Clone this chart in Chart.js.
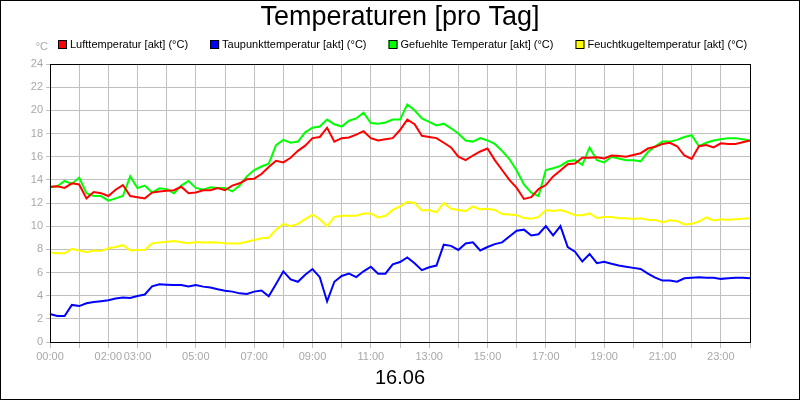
<!DOCTYPE html>
<html>
<head>
<meta charset="utf-8">
<title>Temperaturen [pro Tag]</title>
<script src="https://cdn.jsdelivr.net/npm/chart.js@4/dist/chart.umd.min.js"></script>
<style>
    body { margin: 0; background: #fff; }
    canvas { display: block; }
</style>
</head>
<body>
<canvas id="tempChart" width="800" height="400"></canvas>
<script>
// Messwerte alle 15 Minuten, 00:00 bis 24:00
const stepMinutes = 15;
const times = [];
for (let m = 0; m <= 24 * 60; m += stepMinutes) {
    const hh = String(Math.floor(m / 60)).padStart(2, '0');
    const mm = String(m % 60).padStart(2, '0');
    times.push(hh + ':' + mm);
}

const tickLabels = ['00:00', '02:00', '03:00', '05:00', '07:00', '09:00', '11:00', '13:00', '15:00', '17:00', '19:00', '21:00', '23:00'];
const yTicks = [0, 2, 4, 6, 8, 10, 12, 14, 16, 18, 20, 22, 24];
const chartTitle = 'Temperaturen [pro Tag]';
const dateLabel = '16.06';

const seriesNames = ['Lufttemperatur [akt] (°C)', 'Taupunkttemperatur [akt] (°C)', 'Gefuehlte Temperatur [akt] (°C)', 'Feuchtkugeltemperatur [akt] (°C)'];

const luftTemp = [
    13.4, 13.45, 13.3, 13.7, 13.6, 12.4, 12.95, 12.85, 12.6, 13.15, 13.55, 12.6, 12.5, 12.4, 12.9, 13.0, 13.05, 13.1, 13.4, 12.85, 12.9, 13.1, 13.1, 13.3, 13.1,
    13.5, 13.7, 14.05, 14.1, 14.5, 15.1, 15.65, 15.5, 15.9, 16.5, 16.95, 17.6, 17.7, 18.5, 17.3, 17.6, 17.65, 17.9, 18.2, 17.6, 17.4, 17.5, 17.6, 18.3,
    19.2, 18.8, 17.8, 17.7, 17.6, 17.2, 16.8, 16.0, 15.7, 16.1, 16.45, 16.7, 15.7, 14.85, 14.0, 13.3, 12.35, 12.5, 13.2, 13.55, 14.3, 14.8, 15.35, 15.4,
    15.9, 15.9, 15.95, 15.85, 16.1, 16.05, 16.0, 16.15, 16.3, 16.7, 16.85, 17.1, 17.2, 16.9, 16.1, 15.8, 16.9, 17.0, 16.8, 17.15, 17.1, 17.1, 17.25, 17.4
];
const taupunkt = [
    2.41, 2.24, 2.24, 3.2, 3.1, 3.35, 3.45, 3.52, 3.6, 3.75, 3.85, 3.8, 3.97, 4.1, 4.8, 4.98, 4.95, 4.92, 4.92, 4.8, 4.92, 4.78, 4.7, 4.55, 4.43,
    4.35, 4.2, 4.15, 4.35, 4.45, 3.95, 5.0, 6.1, 5.4, 5.2, 5.8, 6.3, 5.6, 3.5, 5.2, 5.7, 5.9, 5.6, 6.1, 6.5, 5.9, 5.9, 6.7, 6.9,
    7.3, 6.8, 6.2, 6.45, 6.6, 8.4, 8.3, 7.95, 8.5, 8.6, 7.9, 8.2, 8.45, 8.6, 9.1, 9.6, 9.7, 9.2, 9.3, 10.0, 9.2, 10.0, 8.2, 7.8,
    6.95, 7.6, 6.8, 6.93, 6.75, 6.6, 6.5, 6.4, 6.3, 5.9, 5.55, 5.3, 5.3, 5.2, 5.5, 5.55, 5.6, 5.55, 5.55, 5.45, 5.5, 5.55, 5.55, 5.5
];
const gefuehlt = [
    13.35, 13.45, 13.9, 13.65, 14.2, 12.85, 12.6, 12.6, 12.2, 12.4, 12.6, 14.3, 13.3, 13.5, 12.9, 13.27, 13.2, 12.85, 13.5, 13.9, 13.3, 13.15, 13.35, 13.3, 13.3,
    13.0, 13.5, 14.3, 14.85, 15.15, 15.4, 17.0, 17.45, 17.2, 17.3, 18.1, 18.5, 18.6, 19.2, 18.8, 18.6, 19.1, 19.3, 19.8, 18.9, 18.85, 18.95, 19.2, 19.2,
    20.5, 20.0, 19.3, 19.0, 18.7, 18.85, 18.45, 18.0, 17.4, 17.3, 17.6, 17.4, 17.1, 16.5, 15.8, 14.8, 13.6, 12.9, 12.6, 14.85, 15.0, 15.2, 15.6, 15.7,
    15.3, 16.8, 15.7, 15.5, 16.0, 15.85, 15.7, 15.7, 15.6, 16.4, 16.9, 17.3, 17.3, 17.45, 17.7, 17.85, 16.9, 17.2, 17.4, 17.5, 17.6, 17.6, 17.5, 17.4
];
const feuchtkugel = [
    7.72, 7.66, 7.66, 8.05, 7.9, 7.75, 7.9, 7.85, 8.09, 8.2, 8.36, 7.9, 7.95, 7.95, 8.5, 8.6, 8.65, 8.72, 8.62, 8.52, 8.64, 8.58, 8.62, 8.58, 8.52,
    8.5, 8.5, 8.66, 8.8, 8.95, 9.0, 9.7, 10.2, 10.0, 10.2, 10.6, 11.0, 10.6, 10.0, 10.8, 10.9, 10.9, 10.9, 11.1, 11.1, 10.75, 10.9, 11.4, 11.7,
    12.1, 12.0, 11.35, 11.4, 11.2, 12.0, 11.5, 11.4, 11.3, 11.7, 11.45, 11.5, 11.4, 11.05, 11.0, 10.95, 10.7, 10.65, 10.8, 11.4, 11.3, 11.4, 11.2, 10.95,
    10.95, 11.1, 10.7, 10.8, 10.8, 10.68, 10.68, 10.62, 10.68, 10.56, 10.54, 10.35, 10.5, 10.45, 10.15, 10.2, 10.4, 10.75, 10.5, 10.6, 10.55, 10.6, 10.65, 10.68
];

const seriesColors = ['#ff0000', '#0000ff', '#00ff00', '#ffff00'];
const fontFamily = '"Liberation Sans", Arial, sans-serif';
const tickGray = '#a8a8a8';
const gridGray = '#c0c0c0';

// Titel, Legende, Rahmen und Einheit selbst zeichnen
const frameAndLegend = {
    id: 'frameAndLegend',
    afterDraw(chart) {
        const ctx = chart.ctx;
        const area = chart.chartArea;
        ctx.save();

        // Rahmen um den Plotbereich
        ctx.strokeStyle = '#000';
        ctx.lineWidth = 1;
        ctx.strokeRect(Math.round(area.left) + 0.5, Math.round(area.top) + 0.5, Math.round(area.right - area.left), Math.round(area.bottom - area.top));

        // Rahmen um das ganze Bild
        ctx.strokeRect(0.5, 0.5, chart.width - 1, chart.height - 1);

        // Titel
        ctx.fillStyle = '#000';
        ctx.font = '27px ' + fontFamily;
        ctx.textAlign = 'center';
        ctx.textBaseline = 'middle';
        ctx.fillText(chartTitle, chart.width / 2, 18);

        // Legende
        ctx.font = '11px ' + fontFamily;
        ctx.textAlign = 'left';
        let x = 58;
        const boxTop = 40;
        chart.data.datasets.forEach(ds => {
            ctx.fillStyle = ds.borderColor;
            ctx.fillRect(x, boxTop, 9, 9);
            ctx.strokeStyle = '#000';
            ctx.strokeRect(x + 0.5, boxTop + 0.5, 8, 8);
            ctx.fillStyle = '#000';
            ctx.fillText(ds.label, x + 12, boxTop + 5);
            x += 12 + ctx.measureText(ds.label).width + 22;
        });

        // Einheit an der y-Achse
        ctx.fillStyle = tickGray;
        ctx.textAlign = 'right';
        ctx.fillText('°C', 48, 47);
        ctx.restore();
    }
};

const ctx = document.getElementById('tempChart').getContext('2d');
const tempChart = new Chart(ctx, {
    type: 'line',
    data: {
        labels: times,
        datasets: [luftTemp, taupunkt, gefuehlt, feuchtkugel].map((values, i) => ({
            label: seriesNames[i],
            data: values,
            borderColor: seriesColors[i],
            backgroundColor: seriesColors[i],
            borderWidth: 2,
            pointRadius: 0,
            tension: 0,
            fill: false
        }))
    },
    options: {
        responsive: false,
        animation: false,
        layout: {
            padding: { left: 0, right: 50, top: 64, bottom: 0 }
        },
        plugins: {
            legend: { display: false },
            tooltip: { enabled: false },
            title: { display: false }
        },
        scales: {
            x: {
                type: 'category',
                offset: false,
                afterFit: scale => { scale.height = 58; },
                border: { color: '#000', width: 1 },
                grid: {
                    offset: false,
                    color: c => (times[c.index] || '').endsWith(':00') ? gridGray : 'rgba(0,0,0,0)',
                    tickColor: c => (times[c.index] || '').endsWith(':00') ? gridGray : 'rgba(0,0,0,0)',
                    tickLength: 6
                },
                ticks: {
                    autoSkip: false,
                    maxRotation: 0,
                    minRotation: 0,
                    padding: 2,
                    color: tickGray,
                    font: { family: fontFamily, size: 11 },
                    callback: function (value) {
                        const label = this.getLabelForValue(value);
                        return tickLabels.includes(label) ? label : '';
                    }
                },
                title: {
                    display: true,
                    text: dateLabel,
                    color: '#000',
                    font: { family: fontFamily, size: 20 },
                    padding: { top: 0, bottom: 10 }
                }
            },
            y: {
                min: yTicks[0],
                max: yTicks[yTicks.length - 1],
                afterFit: scale => { scale.width = 50; },
                border: { color: '#000', width: 1 },
                grid: {
                    color: gridGray,
                    tickColor: gridGray,
                    tickLength: 4
                },
                ticks: {
                    stepSize: 2,
                    padding: 3,
                    color: tickGray,
                    font: { family: fontFamily, size: 11 }
                }
            }
        }
    },
    plugins: [frameAndLegend]
});
</script>
</body>
</html>
